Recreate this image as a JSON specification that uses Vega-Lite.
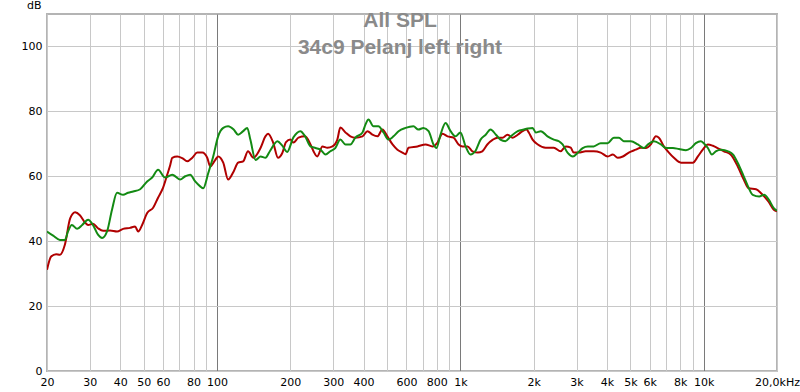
{
  "$schema": "https://vega.github.io/schema/vega-lite/v6.json",
  "autosize": "none",
  "width": 730,
  "height": 357,
  "padding": {"left": 47, "top": 14, "right": 23, "bottom": 21},
  "background": "white",
  "title": {
    "text": ["All SPL", "34c9 Pelanj left right"],
    "anchor": "middle",
    "frame": "group",
    "baseline": "top",
    "offset": -59,
    "dx": -12,
    "font": "Liberation Sans",
    "fontSize": 21,
    "fontWeight": "bold",
    "color": "#8a8a8a",
    "lineHeight": 27
  },
  "config": {
    "view": {"stroke": "#b4b4b4", "strokeWidth": 2},
    "axis": {
      "labelFont": "DejaVu Sans",
      "labelFontSize": 11,
      "labelColor": "#000000",
      "domain": false,
      "ticks": false,
      "gridColor": "#c8c8c8",
      "gridWidth": 1,
      "gridOpacity": 1,
      "labelPadding": 5
    }
  },
  "data": {
    "values": [
      {"f":20,"db":31.2,"s":"Left"},{"f":20.8,"db":35.3,"s":"Left"},{"f":21.8,"db":36,"s":"Left"},{"f":22.6,"db":35.8,"s":"Left"},{"f":23.7,"db":39,"s":"Left"},{"f":24.9,"db":47,"s":"Left"},{"f":26.1,"db":48.9,"s":"Left"},{"f":27.3,"db":48,"s":"Left"},{"f":28.7,"db":45.7,"s":"Left"},{"f":29.5,"db":45,"s":"Left"},{"f":30.9,"db":45.4,"s":"Left"},{"f":32.4,"db":44,"s":"Left"},{"f":34.0,"db":43.2,"s":"Left"},{"f":36.3,"db":43.3,"s":"Left"},{"f":38.8,"db":43,"s":"Left"},{"f":41.1,"db":43.8,"s":"Left"},{"f":43.9,"db":44.1,"s":"Left"},{"f":46.0,"db":44.5,"s":"Left"},{"f":47.4,"db":43,"s":"Left"},{"f":49.2,"db":45,"s":"Left"},{"f":51.6,"db":48.7,"s":"Left"},{"f":54.6,"db":50.3,"s":"Left"},{"f":57.2,"db":53.4,"s":"Left"},{"f":60.0,"db":56.5,"s":"Left"},{"f":62.4,"db":60.5,"s":"Left"},{"f":64.2,"db":63.5,"s":"Left"},{"f":65.4,"db":65.7,"s":"Left"},{"f":68.6,"db":66.1,"s":"Left"},{"f":71.9,"db":65.6,"s":"Left"},{"f":75.4,"db":64.6,"s":"Left"},{"f":79.1,"db":65.7,"s":"Left"},{"f":82.9,"db":67.3,"s":"Left"},{"f":86.9,"db":67.3,"s":"Left"},{"f":91.1,"db":65.7,"s":"Left"},{"f":93.7,"db":63,"s":"Left"},{"f":98.2,"db":65,"s":"Left"},{"f":101,"db":66.1,"s":"Left"},{"f":106,"db":64.2,"s":"Left"},{"f":111,"db":59,"s":"Left"},{"f":117,"db":61.5,"s":"Left"},{"f":122,"db":64.2,"s":"Left"},{"f":128,"db":64.6,"s":"Left"},{"f":134,"db":67.7,"s":"Left"},{"f":141,"db":65.7,"s":"Left"},{"f":151,"db":68.8,"s":"Left"},{"f":158,"db":72.3,"s":"Left"},{"f":162,"db":73.1,"s":"Left"},{"f":170,"db":70.4,"s":"Left"},{"f":178,"db":65.7,"s":"Left"},{"f":185,"db":67,"s":"Left"},{"f":192,"db":70.5,"s":"Left"},{"f":200,"db":71.3,"s":"Left"},{"f":206,"db":70.4,"s":"Left"},{"f":216,"db":71.9,"s":"Left"},{"f":230,"db":72.3,"s":"Left"},{"f":242,"db":69.8,"s":"Left"},{"f":249,"db":67.7,"s":"Left"},{"f":258,"db":66.1,"s":"Left"},{"f":271,"db":69.2,"s":"Left"},{"f":284,"db":68.8,"s":"Left"},{"f":298,"db":69.2,"s":"Left"},{"f":312,"db":71.3,"s":"Left"},{"f":321,"db":75,"s":"Left"},{"f":337,"db":73.5,"s":"Left"},{"f":353,"db":72.3,"s":"Left"},{"f":370,"db":71.9,"s":"Left"},{"f":396,"db":72.3,"s":"Left"},{"f":415,"db":73.9,"s":"Left"},{"f":435,"db":72.8,"s":"Left"},{"f":456,"db":72.3,"s":"Left"},{"f":478,"db":74.4,"s":"Left"},{"f":501,"db":72.3,"s":"Left"},{"f":526,"db":69.8,"s":"Left"},{"f":551,"db":68.2,"s":"Left"},{"f":578,"db":67.3,"s":"Left"},{"f":595,"db":66.8,"s":"Left"},{"f":612,"db":68.8,"s":"Left"},{"f":666,"db":69.2,"s":"Left"},{"f":719,"db":69.8,"s":"Left"},{"f":768,"db":69.2,"s":"Left"},{"f":805,"db":70.4,"s":"Left"},{"f":844,"db":73.1,"s":"Left"},{"f":885,"db":72.3,"s":"Left"},{"f":937,"db":71.9,"s":"Left"},{"f":983,"db":69.8,"s":"Left"},{"f":1020,"db":69.2,"s":"Left"},{"f":1070,"db":69.2,"s":"Left"},{"f":1120,"db":67.7,"s":"Left"},{"f":1180,"db":67.3,"s":"Left"},{"f":1230,"db":67.7,"s":"Left"},{"f":1290,"db":69.8,"s":"Left"},{"f":1360,"db":71.3,"s":"Left"},{"f":1420,"db":71.9,"s":"Left"},{"f":1490,"db":71.9,"s":"Left"},{"f":1560,"db":72.8,"s":"Left"},{"f":1640,"db":71.9,"s":"Left"},{"f":1720,"db":72.8,"s":"Left"},{"f":1800,"db":73.9,"s":"Left"},{"f":1870,"db":74.4,"s":"Left"},{"f":1910,"db":73.5,"s":"Left"},{"f":1980,"db":71.3,"s":"Left"},{"f":2080,"db":69.8,"s":"Left"},{"f":2240,"db":68.8,"s":"Left"},{"f":2420,"db":68.8,"s":"Left"},{"f":2580,"db":67.7,"s":"Left"},{"f":2710,"db":69.2,"s":"Left"},{"f":2840,"db":68.8,"s":"Left"},{"f":2920,"db":67.3,"s":"Left"},{"f":3060,"db":67.3,"s":"Left"},{"f":3270,"db":67.7,"s":"Left"},{"f":3530,"db":67.7,"s":"Left"},{"f":3770,"db":67.3,"s":"Left"},{"f":4030,"db":66.1,"s":"Left"},{"f":4230,"db":66.7,"s":"Left"},{"f":4430,"db":65.7,"s":"Left"},{"f":4650,"db":66.1,"s":"Left"},{"f":4920,"db":67.3,"s":"Left"},{"f":5260,"db":68.2,"s":"Left"},{"f":5510,"db":68.8,"s":"Left"},{"f":5780,"db":68.7,"s":"Left"},{"f":6060,"db":69.8,"s":"Left"},{"f":6360,"db":72.3,"s":"Left"},{"f":6540,"db":71.9,"s":"Left"},{"f":6860,"db":69.2,"s":"Left"},{"f":7190,"db":67.3,"s":"Left"},{"f":7540,"db":65.7,"s":"Left"},{"f":8060,"db":64.2,"s":"Left"},{"f":8610,"db":64.2,"s":"Left"},{"f":9030,"db":64.2,"s":"Left"},{"f":9460,"db":66.1,"s":"Left"},{"f":9910,"db":68.2,"s":"Left"},{"f":10400,"db":69.8,"s":"Left"},{"f":10900,"db":69.4,"s":"Left"},{"f":11400,"db":68.7,"s":"Left"},{"f":12100,"db":67.7,"s":"Left"},{"f":12900,"db":66.7,"s":"Left"},{"f":13800,"db":63,"s":"Left"},{"f":14600,"db":59,"s":"Left"},{"f":15300,"db":56.3,"s":"Left"},{"f":16400,"db":56,"s":"Left"},{"f":17200,"db":54.8,"s":"Left"},{"f":18400,"db":52.3,"s":"Left"},{"f":19400,"db":49.7,"s":"Left"},{"f":20000,"db":49.2,"s":"Left"},
      {"f":20,"db":43,"s":"Right"},{"f":21.2,"db":41.7,"s":"Right"},{"f":22.6,"db":40.4,"s":"Right"},{"f":23.7,"db":40.4,"s":"Right"},{"f":24.4,"db":43,"s":"Right"},{"f":25.3,"db":45,"s":"Right"},{"f":26.6,"db":43.8,"s":"Right"},{"f":27.9,"db":45,"s":"Right"},{"f":29.5,"db":46.6,"s":"Right"},{"f":30.9,"db":45,"s":"Right"},{"f":32.4,"db":42,"s":"Right"},{"f":33.7,"db":41,"s":"Right"},{"f":35.3,"db":43,"s":"Right"},{"f":37.0,"db":49.7,"s":"Right"},{"f":38.8,"db":54.9,"s":"Right"},{"f":41.1,"db":54.3,"s":"Right"},{"f":43.1,"db":54.9,"s":"Right"},{"f":45.2,"db":55.3,"s":"Right"},{"f":48.3,"db":56,"s":"Right"},{"f":51.6,"db":58.4,"s":"Right"},{"f":54.1,"db":59.6,"s":"Right"},{"f":57.2,"db":62,"s":"Right"},{"f":61.2,"db":59.6,"s":"Right"},{"f":65.4,"db":60.5,"s":"Right"},{"f":67.3,"db":60,"s":"Right"},{"f":70.5,"db":59,"s":"Right"},{"f":74.0,"db":60,"s":"Right"},{"f":77.5,"db":60.5,"s":"Right"},{"f":81.3,"db":58.4,"s":"Right"},{"f":85.2,"db":56.9,"s":"Right"},{"f":87.7,"db":56.3,"s":"Right"},{"f":92.0,"db":61,"s":"Right"},{"f":96.4,"db":66.1,"s":"Right"},{"f":101,"db":72.3,"s":"Right"},{"f":106,"db":74.9,"s":"Right"},{"f":111,"db":75.4,"s":"Right"},{"f":117,"db":74.4,"s":"Right"},{"f":122,"db":72.8,"s":"Right"},{"f":128,"db":73.9,"s":"Right"},{"f":133,"db":74.9,"s":"Right"},{"f":137,"db":71.3,"s":"Right"},{"f":144,"db":65,"s":"Right"},{"f":151,"db":66.1,"s":"Right"},{"f":158,"db":65.7,"s":"Right"},{"f":165,"db":67.8,"s":"Right"},{"f":177,"db":70.8,"s":"Right"},{"f":185,"db":69.5,"s":"Right"},{"f":194,"db":67.5,"s":"Right"},{"f":206,"db":72,"s":"Right"},{"f":220,"db":73.9,"s":"Right"},{"f":230,"db":72.3,"s":"Right"},{"f":242,"db":69.2,"s":"Right"},{"f":254,"db":68.7,"s":"Right"},{"f":266,"db":68.2,"s":"Right"},{"f":279,"db":66.7,"s":"Right"},{"f":292,"db":67.7,"s":"Right"},{"f":306,"db":68.7,"s":"Right"},{"f":321,"db":71.3,"s":"Right"},{"f":337,"db":69.8,"s":"Right"},{"f":353,"db":69.8,"s":"Right"},{"f":370,"db":71.9,"s":"Right"},{"f":396,"db":73.5,"s":"Right"},{"f":407,"db":75.9,"s":"Right"},{"f":419,"db":77.5,"s":"Right"},{"f":439,"db":75.4,"s":"Right"},{"f":460,"db":75.4,"s":"Right"},{"f":483,"db":73.5,"s":"Right"},{"f":506,"db":71.3,"s":"Right"},{"f":531,"db":72.3,"s":"Right"},{"f":557,"db":73.9,"s":"Right"},{"f":595,"db":74.9,"s":"Right"},{"f":641,"db":75.4,"s":"Right"},{"f":672,"db":74.4,"s":"Right"},{"f":705,"db":74.9,"s":"Right"},{"f":740,"db":73.9,"s":"Right"},{"f":775,"db":69.8,"s":"Right"},{"f":797,"db":68.7,"s":"Right"},{"f":828,"db":72.8,"s":"Right"},{"f":869,"db":76.4,"s":"Right"},{"f":911,"db":73.9,"s":"Right"},{"f":955,"db":72.3,"s":"Right"},{"f":1000,"db":73.5,"s":"Right"},{"f":1050,"db":69.2,"s":"Right"},{"f":1100,"db":66.7,"s":"Right"},{"f":1150,"db":67.7,"s":"Right"},{"f":1210,"db":71.3,"s":"Right"},{"f":1270,"db":72.8,"s":"Right"},{"f":1330,"db":74.4,"s":"Right"},{"f":1400,"db":72.8,"s":"Right"},{"f":1460,"db":71.3,"s":"Right"},{"f":1530,"db":70.8,"s":"Right"},{"f":1610,"db":72.3,"s":"Right"},{"f":1720,"db":73.9,"s":"Right"},{"f":1820,"db":74.4,"s":"Right"},{"f":1890,"db":74.7,"s":"Right"},{"f":1980,"db":74.9,"s":"Right"},{"f":2040,"db":73.5,"s":"Right"},{"f":2140,"db":73.9,"s":"Right"},{"f":2280,"db":72.3,"s":"Right"},{"f":2420,"db":71.3,"s":"Right"},{"f":2540,"db":70.8,"s":"Right"},{"f":2630,"db":69.8,"s":"Right"},{"f":2760,"db":67.2,"s":"Right"},{"f":2900,"db":66.1,"s":"Right"},{"f":3030,"db":67.2,"s":"Right"},{"f":3180,"db":68.7,"s":"Right"},{"f":3340,"db":69.2,"s":"Right"},{"f":3530,"db":69.2,"s":"Right"},{"f":3770,"db":70.2,"s":"Right"},{"f":4030,"db":70.2,"s":"Right"},{"f":4270,"db":71.9,"s":"Right"},{"f":4480,"db":71.9,"s":"Right"},{"f":4690,"db":70.8,"s":"Right"},{"f":5020,"db":70.8,"s":"Right"},{"f":5360,"db":69.8,"s":"Right"},{"f":5670,"db":68.7,"s":"Right"},{"f":5890,"db":69.8,"s":"Right"},{"f":6240,"db":70.8,"s":"Right"},{"f":6670,"db":69.8,"s":"Right"},{"f":6990,"db":68.7,"s":"Right"},{"f":7470,"db":68.7,"s":"Right"},{"f":7900,"db":68.4,"s":"Right"},{"f":8450,"db":68,"s":"Right"},{"f":8860,"db":68.7,"s":"Right"},{"f":9280,"db":70.2,"s":"Right"},{"f":9730,"db":70.8,"s":"Right"},{"f":10000,"db":70.2,"s":"Right"},{"f":10400,"db":68.7,"s":"Right"},{"f":10800,"db":66.7,"s":"Right"},{"f":11200,"db":67.7,"s":"Right"},{"f":11800,"db":68.2,"s":"Right"},{"f":12600,"db":67.7,"s":"Right"},{"f":13200,"db":66.7,"s":"Right"},{"f":13800,"db":64.1,"s":"Right"},{"f":14500,"db":60.5,"s":"Right"},{"f":15200,"db":56.9,"s":"Right"},{"f":15900,"db":54.3,"s":"Right"},{"f":16900,"db":53.8,"s":"Right"},{"f":17700,"db":54.3,"s":"Right"},{"f":18500,"db":52.8,"s":"Right"},{"f":19400,"db":50.2,"s":"Right"},{"f":20000,"db":49.4,"s":"Right"}
    ]
  },
  "mark": {"type": "line", "interpolate": "monotone", "strokeWidth": 2, "clip": true},
  "encoding": {
    "x": {
      "field": "f",
      "type": "quantitative",
      "scale": {"type": "log", "domain": [20, 20000], "nice": false},
      "axis": {
        "title": null,
        "values": [20,30,40,50,60,70,80,90,100,200,300,400,500,600,700,800,900,1000,2000,3000,4000,5000,6000,7000,8000,9000,10000,20000],
        "labelFlush": false,
        "labelOverlap": false,
        "labelExpr": "datum.value == 20000 ? '20,0kHz' : indexof([1000,2000,3000,4000,5000,6000,8000,10000], datum.value) >= 0 ? (datum.value/1000) + 'k' : indexof([20,30,40,50,60,80,100,200,300,400,600,800], datum.value) >= 0 ? '' + datum.value : ''",
        "gridColor": {"condition": {"test": "datum.value == 100 || datum.value == 1000 || datum.value == 10000", "value": "#7a7a7a"}, "value": "#c8c8c8"}
      }
    },
    "y": {
      "field": "db",
      "type": "quantitative",
      "scale": {"domain": [0, 110], "nice": false, "zero": false},
      "axis": {
        "title": "dB",
        "values": [0, 20, 40, 60, 80, 100],
        "titleAngle": 0,
        "titleFont": "DejaVu Sans",
        "titleFontSize": 11,
        "titleFontWeight": "normal",
        "titleAlign": "right",
        "titleBaseline": "bottom",
        "titleX": -6,
        "titleY": -4
      }
    },
    "color": {
      "field": "s",
      "type": "nominal",
      "scale": {"domain": ["Left", "Right"], "range": ["#b00000", "#138a13"]},
      "legend": null
    }
  }
}
